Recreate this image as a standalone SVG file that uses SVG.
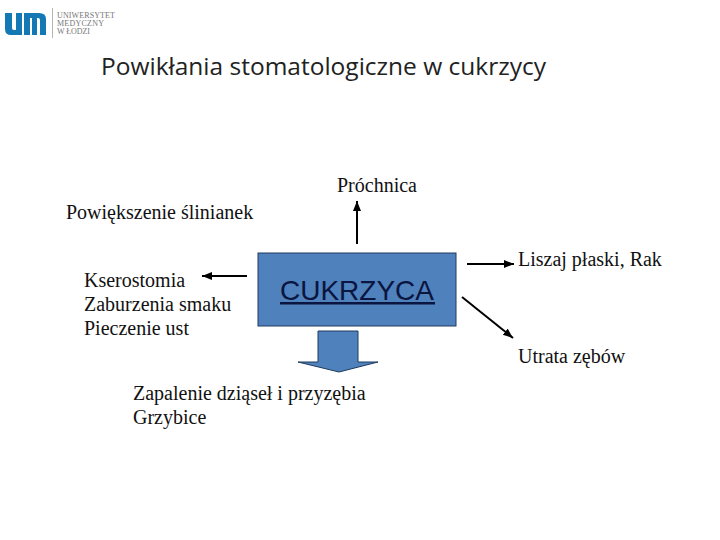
<svg xmlns="http://www.w3.org/2000/svg" width="720" height="540" viewBox="0 0 720 540">
<style>
.s{font-family:"Liberation Serif",serif;font-size:20px;fill:#111}
.l{stroke:#000;stroke-width:2;fill:none;marker-end:url(#a)}
.b{fill:#4f81bd;stroke:#1f3a5f;stroke-width:1}
</style>
<defs><marker id="a" markerUnits="userSpaceOnUse" markerWidth="11" markerHeight="9" refX="10" refY="4" orient="auto"><path d="M0 0L10 4L0 8z" fill="#000"/></marker></defs>
<rect width="720" height="540" fill="#fff"/>
<g id="logo">
<path d="M5 13h7v15q0 2 2 2h2V13h6v22H11q-6 0-6-6z" fill="#1478b4"/>
<path d="M24 35V13h15q7 0 7 6v16h-6V20q0-2-2-2h-1v17h-5V18h-2v17z" fill="#1478b4"/>
<rect x="52" y="8" width="1" height="30" fill="#b5b5b5"/>
<g font-family="'Liberation Serif',serif" font-size="8" fill="#777">
<text x="57" y="18" textLength="58">UNIWERSYTET</text><text x="57" y="26" textLength="47">MEDYCZNY</text><text x="57" y="34" textLength="33">W ŁODZI</text></g>
</g>
<text id="title" x="101" y="75" font-family="'Open Sans',sans-serif" font-size="24.5" fill="#222">Powikłania stomatologiczne w cukrzycy</text>
<g id="connectors">
<path class="l" d="M357 244V201"/>
<path class="l" d="M247 276H202"/>
<path class="l" d="M467 264H514"/>
<path class="l" d="M462 297L513 338"/>
</g>
<g id="cukrzyca"><rect class="b" x="258" y="253" width="198" height="73"/>
<text x="357" y="300" text-anchor="middle" font-family="'Liberation Sans',sans-serif" font-size="28" fill="#0a1540">CUKRZYCA</text>
<rect x="280" y="302" width="155" height="2.5" fill="#0a1540"/></g>
<g id="arrow-down"><path class="b" d="M318 331H358V362H378L339 372L298 362H318z"/></g>
<g id="prochnica"><text class="s" x="337" y="192">Próchnica</text></g>
<g id="powiekszenie"><text class="s" x="66" y="219">Powiększenie ślinianek</text></g>
<g id="kserostomia"><text class="s" x="84" y="287">Kserostomia</text><text class="s" x="84" y="311">Zaburzenia smaku</text><text class="s" x="84" y="335">Pieczenie ust</text></g>
<g id="liszaj"><text class="s" x="518" y="266">Liszaj płaski, Rak</text></g>
<g id="utrata"><text class="s" x="518" y="363">Utrata zębów</text></g>
<g id="zapalenie"><text class="s" x="133" y="400">Zapalenie dziąseł i przyzębia</text><text class="s" x="133" y="424">Grzybice</text></g>
</svg>
